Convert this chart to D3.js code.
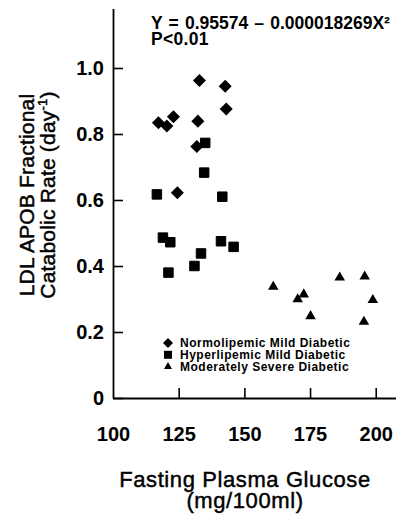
<!DOCTYPE html>
<html>
<head>
<meta charset="utf-8">
<script src="https://cdn.jsdelivr.net/npm/d3@7"></script>
<style>
  body { margin: 0; background: #fff; }
  svg { display: block; }
  text { font-family: "Liberation Sans", Arial, Helvetica, sans-serif; fill: #000; }
</style>
</head>
<body>
<svg id="chart" width="396" height="516"></svg>
<script>
// glucose (mg/100ml) vs LDL apoB fractional catabolic rate (day^-1)
const normoGlucose = [132.9, 142.7, 143.1, 117.3, 120.5, 123.0, 132.3, 131.9, 124.5];
const normoRate    = [0.962, 0.945, 0.876, 0.834, 0.824, 0.852, 0.839, 0.762, 0.622];

const hyperGlucose = [135.1, 134.7, 116.7, 141.6, 119.0, 121.8, 141.1, 145.9, 133.5, 131.0, 121.1];
const hyperRate    = [0.773, 0.683, 0.617, 0.610, 0.486, 0.472, 0.475, 0.458, 0.438, 0.400, 0.380];

const severeGlucose = [161.0, 170.3, 172.6, 175.2, 186.3, 195.8, 198.9, 195.5];
const severeRate    = [0.337, 0.299, 0.314, 0.248, 0.365, 0.368, 0.297, 0.231];

const xTicks = [100, 125, 150, 175, 200];
const yTicks = [0, 0.2, 0.4, 0.6, 0.8, 1.0];
const legendLabels = ['Normolipemic Mild Diabetic', 'Hyperlipemic Mild Diabetic', 'Moderately Severe Diabetic'];

const svg = d3.select('#chart');

const x = d3.scaleLinear().domain([100, 210]).range([113, 402]);
const y = d3.scaleLinear().domain([0, 1.18]).range([398, 8.6]);

// axes, ticks point inward
const xAxis = d3.axisBottom(x)
  .tickValues(xTicks)
  .tickSizeInner(-10)
  .tickSizeOuter(0)
  .tickPadding(29)
  .tickFormat(d3.format('d'));

const gx = svg.append('g')
  .attr('transform', `translate(0,${y(0)})`)
  .call(xAxis);

const yAxis = d3.axisLeft(y)
  .tickValues(yTicks)
  .tickSizeInner(-10)
  .tickSizeOuter(0)
  .tickPadding(9)
  .tickFormat(d => d === 0 ? '0' : d3.format('.1f')(d));

const gy = svg.append('g')
  .attr('transform', `translate(${x(100)},0)`)
  .call(yAxis);

[gx, gy].forEach(g => {
  g.select('.domain').attr('stroke', '#000').attr('stroke-width', 1.8);
  g.selectAll('.tick line').attr('stroke', '#000').attr('stroke-width', 1.6);
  g.selectAll('.tick text')
    .attr('font-family', '"Liberation Sans", Arial, sans-serif')
    .attr('font-size', 20)
    .attr('font-weight', 'bold')
    .attr('fill', '#000');
});
gx.selectAll('.tick').filter(d => d === 100).select('line').remove();

// axis titles (medium weight faked with a thin stroke)
svg.append('text')
  .attr('x', 245).attr('y', 487)
  .attr('text-anchor', 'middle')
  .attr('font-size', 22)
  .attr('letter-spacing', 0.6)
  .attr('stroke', '#000').attr('stroke-width', 0.45)
  .text('Fasting Plasma Glucose');

svg.append('text')
  .attr('x', 245).attr('y', 508)
  .attr('text-anchor', 'middle')
  .attr('font-size', 22)
  .attr('letter-spacing', 0.6)
  .attr('stroke', '#000').attr('stroke-width', 0.45)
  .text('(mg/100ml)');

const yTitle = svg.append('g').attr('transform', 'translate(0,195) rotate(-90)');
yTitle.append('text')
  .attr('x', 0).attr('y', 34)
  .attr('text-anchor', 'middle')
  .attr('font-size', 21)
  .attr('letter-spacing', 0.2)
  .attr('stroke', '#000').attr('stroke-width', 0.45)
  .text('LDL APOB Fractional');
const l2 = yTitle.append('text')
  .attr('x', 0).attr('y', 55)
  .attr('text-anchor', 'middle')
  .attr('font-size', 21)
  .attr('letter-spacing', 0.2)
  .attr('stroke', '#000').attr('stroke-width', 0.45);
l2.append('tspan').text('Catabolic Rate (day');
l2.append('tspan').attr('font-size', 13).attr('dy', -8).text('-1');
l2.append('tspan').attr('dy', 8).text(')');

// regression equation (runs off the right edge as in the original)
svg.append('text')
  .attr('x', 151).attr('y', 29)
  .attr('font-size', 17.5)
  .attr('font-weight', 'bold')
  .attr('word-spacing', 1.3)
  .text('Y = 0.95574 \u2013 0.000018269X\u00b2');

svg.append('text')
  .attr('x', 151).attr('y', 45)
  .attr('font-size', 17.5)
  .attr('font-weight', 'bold')
  .attr('letter-spacing', 0.3)
  .text('P<0.01');

// markers
const diamond = d3.symbol(d3.symbolSquare, 85);
const square = d3.symbol(d3.symbolSquare, 90);
const triangle = d3.symbol(d3.symbolTriangle, 48);

svg.append('g').selectAll('path')
  .data(d3.zip(normoGlucose, normoRate))
  .join('path')
  .attr('d', diamond)
  .attr('transform', d => `translate(${x(d[0])},${y(d[1])}) rotate(45)`)
  .attr('fill', '#000');

svg.append('g').selectAll('path')
  .data(d3.zip(hyperGlucose, hyperRate))
  .join('path')
  .attr('d', square)
  .attr('transform', d => `translate(${x(d[0])},${y(d[1])})`)
  .attr('fill', '#000')
  .attr('stroke', '#000')
  .attr('stroke-width', 1)
  .attr('stroke-linejoin', 'round');

svg.append('g').selectAll('path')
  .data(d3.zip(severeGlucose, severeRate))
  .join('path')
  .attr('d', triangle)
  .attr('transform', d => `translate(${x(d[0])},${y(d[1])})`)
  .attr('fill', '#000');

// legend
const legendSymbols = [
  { sym: d3.symbol(d3.symbolSquare, 50), rot: 45 },
  { sym: d3.symbol(d3.symbolSquare, 64), rot: 0 },
  { sym: d3.symbol(d3.symbolTriangle, 28), rot: 0 }
];
const legend = svg.append('g');
legendLabels.forEach((label, i) => {
  const cy = 343 + i * 11.8;
  legend.append('path')
    .attr('d', legendSymbols[i].sym)
    .attr('transform', `translate(168,${cy}) rotate(${legendSymbols[i].rot})`)
    .attr('fill', '#000');
  legend.append('text')
    .attr('x', 180).attr('y', cy + 4.3)
    .attr('font-size', 12)
    .attr('font-weight', 'bold')
    .attr('letter-spacing', 0.5)
    .text(label);
});
</script>
</body>
</html>
